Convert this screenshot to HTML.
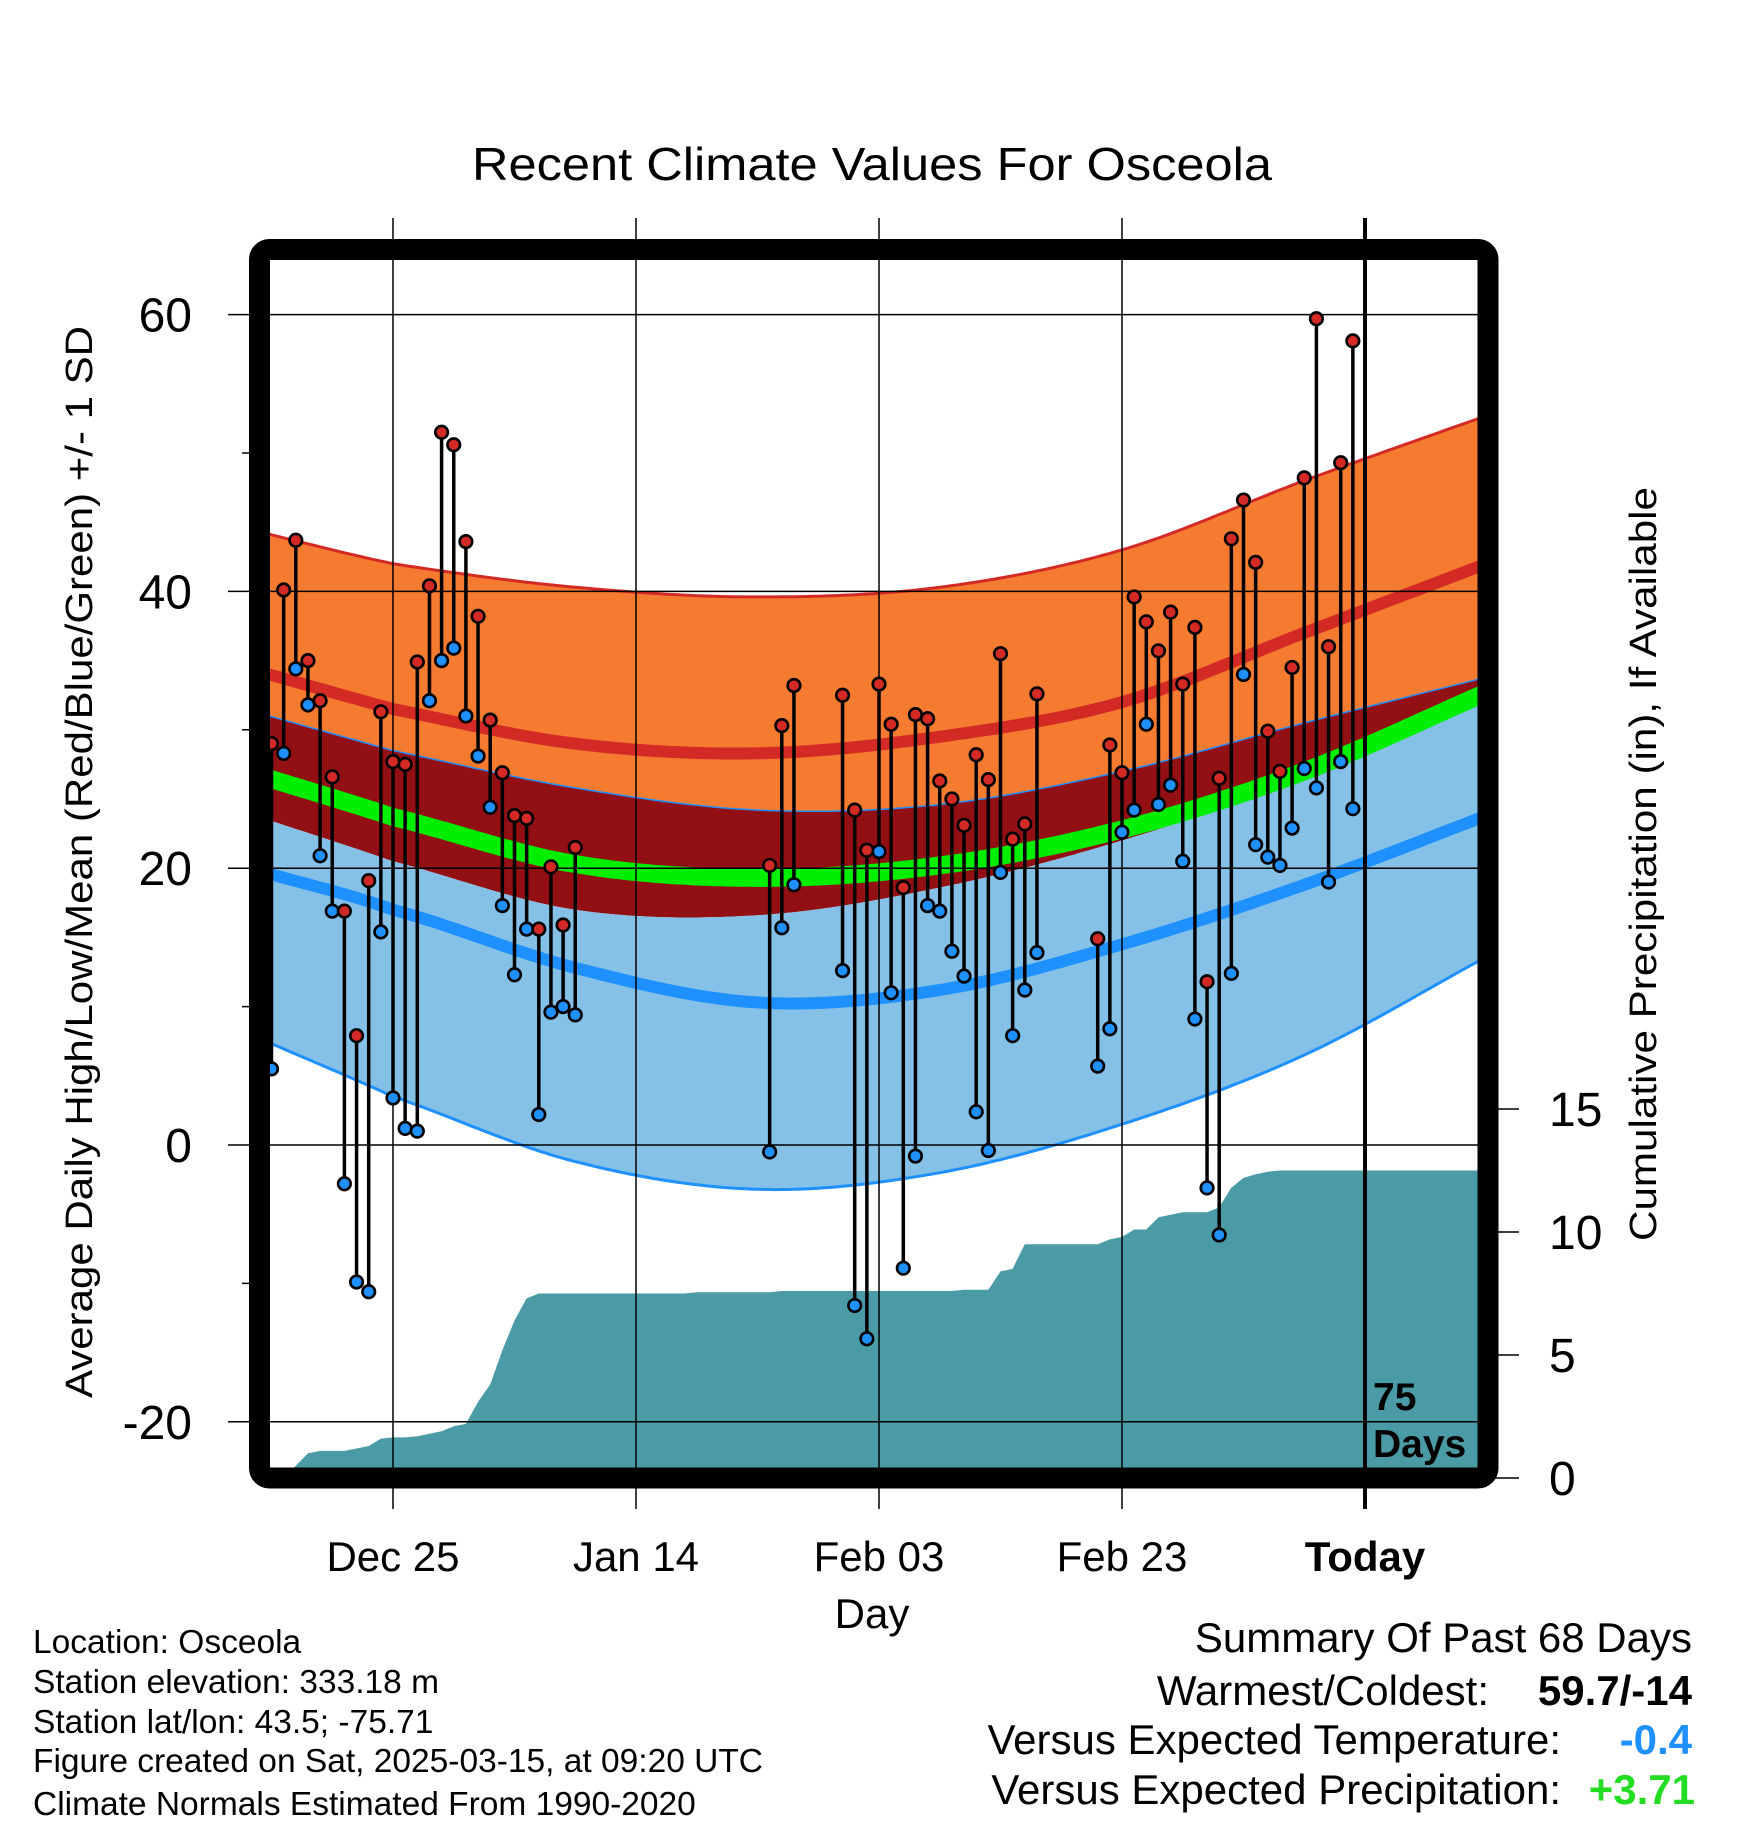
<!DOCTYPE html>
<html><head><meta charset="utf-8"><style>
html,body{margin:0;padding:0;background:#fff;}
svg{display:block;font-family:"Liberation Sans",Arial,sans-serif;}
</style></head><body>
<svg id="chart" width="1748" height="1828" viewBox="0 0 1748 1828" xmlns="http://www.w3.org/2000/svg">
<defs><clipPath id="plotclip"><rect x="259" y="249" width="1229" height="1229"/></clipPath></defs>
<text x="872" y="180" font-size="46" text-anchor="middle" textLength="800" lengthAdjust="spacingAndGlyphs">Recent Climate Values For Osceola</text>
<g id="bands" clip-path="url(#plotclip)"></g>
<g id="grid"></g>
<g id="marks" clip-path="url(#plotclip)"></g>
<g id="axes"></g>
<rect x="259.5" y="249.5" width="1228.5" height="1228.5" rx="10" fill="none" stroke="#000" stroke-width="21"/>
<text transform="translate(92,862) rotate(-90)" font-size="38" text-anchor="middle" textLength="1072" lengthAdjust="spacingAndGlyphs">Average Daily High/Low/Mean (Red/Blue/Green) +/- 1 SD</text>
<text transform="translate(1656,864) rotate(-90)" font-size="38" text-anchor="middle" textLength="754" lengthAdjust="spacingAndGlyphs">Cumulative Precipitation (in), If Available</text>
<text x="872" y="1628" font-size="42" text-anchor="middle">Day</text>
<text x="1373" y="1410" font-size="39" font-weight="bold">75</text>
<text x="1373" y="1457" font-size="39" font-weight="bold">Days</text>
<g font-size="33.5">
<text x="33" y="1653">Location: Osceola</text>
<text x="33" y="1693">Station elevation: 333.18 m</text>
<text x="33" y="1733">Station lat/lon: 43.5; -75.71</text>
<text x="33" y="1772">Figure created on Sat, 2025-03-15, at 09:20 UTC</text>
<text x="33" y="1815">Climate Normals Estimated From 1990-2020</text>
</g>
<g font-size="42" text-anchor="end">
<text x="1692" y="1652">Summary Of Past 68 Days</text>
<text x="1489" y="1705">Warmest/Coldest:</text>
<text x="1692" y="1705" font-weight="bold">59.7/-14</text>
<text x="1561" y="1754">Versus Expected Temperature:</text>
<text x="1692" y="1754" font-weight="bold" fill="#1e90ff">-0.4</text>
<text x="1561" y="1804">Versus Expected Precipitation:</text>
<text x="1695" y="1804" font-weight="bold" fill="#22dd22">+3.71</text>
</g>
</svg>
<script>
// Day index d: 0 = Dec 25
const days = [-10,-9,-8,-7,-6,-5,-4,-3,-2,-1,0,1,2,3,4,5,6,7,8,9,10,11,12,13,14,15,
31,32,33,
37,38,39,40,41,42,43,44,45,46,47,48,49,50,51,52,53,
58,59,60,61,62,63,64,65,66,67,68,69,70,71,72,73,74,75,76,77,78,79];
const highs = [29.0,40.1,43.7,35.0,32.1,26.6,16.9,7.9,19.1,31.3,27.7,27.5,34.9,40.4,51.5,50.6,43.6,38.2,30.7,26.9,23.8,23.6,15.6,20.1,15.9,21.5,
20.2,30.3,33.2,
32.5,24.2,21.3,33.3,30.4,18.6,31.1,30.8,26.3,25.0,23.1,28.2,26.4,35.5,22.1,23.2,32.6,
14.9,28.9,26.9,39.6,37.8,35.7,38.5,33.3,37.4,11.8,26.5,43.8,46.6,42.1,29.9,27.0,34.5,48.2,59.7,36.0,49.3,58.1];
const lows = [5.5,28.3,34.4,31.8,20.9,16.9,-2.8,-9.9,-10.6,15.4,3.4,1.2,1.0,32.1,35.0,35.9,31.0,28.1,24.4,17.3,12.3,15.6,2.2,9.6,10.0,9.4,
-0.5,15.7,18.8,
12.6,-11.6,-14.0,21.2,11.0,-8.9,-0.8,17.3,16.9,14.0,12.2,2.4,-0.4,19.7,7.9,11.2,13.9,
5.7,8.4,22.6,24.2,30.4,24.6,26.0,20.5,9.1,-3.1,-6.5,12.4,34.0,21.7,20.8,20.2,22.9,27.2,25.8,19.0,27.7,24.3];
// normals (knot days and values)
const normDays = [-11,0,15,30,45,60,75,90];
const highPlusSD = [44.3,42.0,40.3,39.6,40.3,43.0,48.0,52.7];
const highMean   = [34.2,31.5,29.0,28.3,29.5,32.0,37.0,42.0];
const highMinusSD= [31.2,28.5,25.8,24.2,24.6,27.0,30.5,33.8];
const meanMean   = [26.7,23.7,20.3,19.3,20.2,22.8,27.0,32.7];
const lowPlusSD  = [23.7,20.5,17.0,16.6,18.6,22.0,26.5,32.0];
const lowMean    = [19.8,17.0,12.8,10.3,11.2,14.5,18.8,23.8];
const lowMinusSD = [7.7,3.5,-1.2,-3.2,-2.0,1.5,6.5,13.6];
// cumulative precipitation per day from d=-11
const precipStart = -11;
const precip = [0,0,0,0.5,1.0,1.1,1.1,1.1,1.2,1.3,1.6,1.65,1.65,1.7,1.8,1.9,2.1,2.2,3.1,3.8,5.2,6.4,7.3,7.5,7.5,7.5,7.5,7.5,7.5,7.5,7.5,7.5,7.5,7.5,7.5,7.5,7.55,7.55,7.55,7.55,7.55,7.55,7.55,7.6,7.6,7.6,7.6,7.6,7.6,7.6,7.6,7.6,7.6,7.6,7.6,7.6,7.6,7.6,7.65,7.65,7.65,8.4,8.5,9.5,9.5,9.5,9.5,9.5,9.5,9.5,9.7,9.8,10.1,10.1,10.6,10.7,10.8,10.8,10.8,11.0,11.8,12.2,12.35,12.45,12.5,12.5,12.5,12.5,12.5,12.5,12.5,12.5,12.5,12.5,12.5,12.5,12.5,12.5,12.5,12.5,12.5,12.5];
const yTicks = [60,40,20,0,-20];
const yMinor = [50,30,10,-10];
const pTicks = [0,5,10,15];
const xTickDays = [0,20,40,60,80];
const xTickLabels = ["Dec 25","Jan 14","Feb 03","Feb 23","Today"];

const NS="http://www.w3.org/2000/svg";
const X = d => 393 + 12.15*d;
const Y = v => 1145 - 13.84*v;
const P = p => 1478 - 24.6*p;
function mk(tag, attrs, parent){const e=document.createElementNS(NS,tag);for(const k in attrs)e.setAttribute(k,attrs[k]);parent.appendChild(e);return e;}
function interp(vals, d){
  const n=normDays.length; let i=0;
  while(i<n-2 && d>normDays[i+1]) i++;
  const p1=vals[i],p2=vals[i+1];
  const p0=i>0?vals[i-1]:2*p1-p2;
  const p3=i+2<n?vals[i+2]:2*p2-p1;
  const t=(d-normDays[i])/(normDays[i+1]-normDays[i]);
  const t2=t*t,t3=t2*t;
  return 0.5*((2*p1)+(-p0+p2)*t+(2*p0-5*p1+4*p2-p3)*t2+(-p0+3*p1-3*p2+p3)*t3);
}
function curvePts(vals){const a=[];for(let d=-11;d<=90;d+=0.5)a.push([X(d),Y(interp(vals,d))]);return a;}
function bandPath(top,bot){const t=curvePts(top),b=curvePts(bot).reverse();return 'M'+t.concat(b).map(p=>p[0].toFixed(1)+','+p[1].toFixed(1)).join('L')+'Z';}
function linePath(vals){return 'M'+curvePts(vals).map(p=>p[0].toFixed(1)+','+p[1].toFixed(1)).join('L');}

const bands=document.getElementById('bands');
let e;
e=mk('path',{d:bandPath(highPlusSD,highMinusSD),fill:'#f47b30'},bands);


e=mk('path',{d:bandPath(highMinusSD,lowPlusSD),fill:'#920f14'},bands);


e=mk('path',{d:bandPath(lowPlusSD,lowMinusSD),fill:'#85c1e6'},bands);


e=mk('path',{d:linePath(highPlusSD),fill:'none',stroke:'#d42a25',"stroke-width":3},bands);


e=mk('path',{d:linePath(highMean),fill:'none',stroke:'#d42a25',"stroke-width":12},bands);


e=mk('path',{d:linePath(highMinusSD),fill:'none',stroke:'#1e90ff',"stroke-width":1.5},bands);


e=mk('path',{d:linePath(meanMean),fill:'none',stroke:'#00ee00',"stroke-width":18},bands);


e=mk('path',{d:linePath(lowMean),fill:'none',stroke:'#1e90ff',"stroke-width":12},bands);


e=mk('path',{d:linePath(lowMinusSD),fill:'none',stroke:'#1e90ff',"stroke-width":3},bands);


// precip area
let pd='M'+X(precipStart)+','+P(0);
precip.forEach((v,i)=>{pd+='L'+X(precipStart+i).toFixed(1)+','+P(v).toFixed(1);});
pd+='L'+X(precipStart+precip.length-1)+','+P(0)+'Z';
e=mk('path',{d:pd,fill:'#4a9ba5'},bands);



const grid=document.getElementById('grid');
yTicks.forEach(v=>{
  const g=mk('line',{x1:228,x2:1488,y1:Y(v),y2:Y(v),stroke:'#000','stroke-width':1.5},grid);
  
  
  const t=mk('text',{x:192,y:Y(v)+17,'font-size':48,'text-anchor':'end'},grid);
  t.textContent=String(v);
  
  
});
yMinor.forEach(v=>{
  const g=mk('line',{x1:242,x2:259,y1:Y(v),y2:Y(v),stroke:'#000','stroke-width':1.5},grid);
  
  
});
xTickDays.forEach((d,i)=>{
  const today=i===xTickDays.length-1;
  const g=mk('line',{x1:X(d),x2:X(d),y1:218,y2:1509,stroke:'#000','stroke-width':today?4:1.5},grid);
  
  
  const t=mk('text',{x:X(d),y:1571,'font-size':42,'text-anchor':'middle','font-weight':today?'bold':'normal'},grid);
  t.textContent=xTickLabels[i];
  
  
});
pTicks.forEach(p=>{
  const g=mk('line',{x1:1488,x2:1519,y1:P(p),y2:P(p),stroke:'#000','stroke-width':1.5},grid);
  
  
  const t=mk('text',{x:1549,y:P(p)+17,'font-size':48},grid);
  t.textContent=String(p);
  
  
});

const marks=document.getElementById('marks');
days.forEach((d,i)=>{
  const s=mk('line',{x1:X(d),x2:X(d),y1:Y(highs[i]),y2:Y(lows[i]),stroke:'#000','stroke-width':3.5},marks);
  
  
});
days.forEach((d,i)=>{
  const h=mk('circle',{cx:X(d),cy:Y(highs[i]),r:6.3,fill:'#d42a25',stroke:'#000','stroke-width':2.6},marks);
  
  
  const l=mk('circle',{cx:X(d),cy:Y(lows[i]),r:6.3,fill:'#1e90ff',stroke:'#000','stroke-width':2.6},marks);
  
  
});
</script>
</body></html>
